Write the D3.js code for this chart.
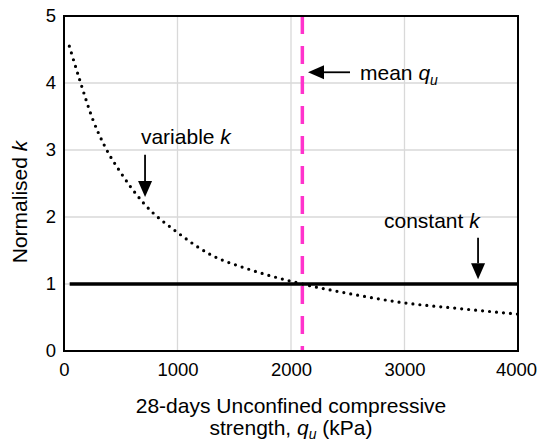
<!DOCTYPE html>
<html><head><meta charset="utf-8">
<script src="https://cdn.jsdelivr.net/npm/d3@7"></script>
<style>body{margin:0;background:#fff}svg{display:block}text{font-family:"Liberation Sans",Arial,sans-serif;fill:#000}</style>
</head><body><svg id="c" width="537" height="442"></svg>
<script>
const xTicks = [0, 1000, 2000, 3000, 4000];
const yTicks = [0, 1, 2, 3, 4, 5];
const curveQu = [47, 147, 253, 361, 493, 705, 1007, 1301, 1610, 1932, 2100, 2579, 2990, 3460, 4000];
const curveK  = [4.55, 4.00, 3.46, 3.05, 2.68, 2.20, 1.76, 1.43, 1.23, 1.07, 1.00, 0.836, 0.72, 0.637, 0.55];
const constQu = [50, 4000];
const constK = [1, 1];
const meanQu = 2100;

const svg = d3.select("#c");
const m = {l:64, r:19, t:16, b:91};
const W = 537, H = 442;
const x = d3.scaleLinear().domain([0,4000]).range([m.l, W-m.r]);
const y = d3.scaleLinear().domain([0,5]).range([H-m.b, m.t]);
const FT = 18.5, FS = 21;

// grid
svg.append("g").selectAll("line").data(xTicks.slice(1,-1)).join("line")
  .attr("x1",d=>x(d)).attr("x2",d=>x(d)).attr("y1",y(0)).attr("y2",y(5))
  .attr("stroke","#d9d9d9").attr("stroke-width",1.3);
svg.append("g").selectAll("line").data(yTicks.slice(1,-1)).join("line")
  .attr("y1",d=>y(d)).attr("y2",d=>y(d)).attr("x1",x(0)).attr("x2",x(4000))
  .attr("stroke","#d9d9d9").attr("stroke-width",1.3);

// axes labels via d3 axes without ticks
const xa = svg.append("g").attr("transform",`translate(0,${y(0)})`)
  .call(d3.axisBottom(x).tickValues(xTicks).tickSize(0).tickPadding(7).tickFormat(d3.format("d")));
const ya = svg.append("g").attr("transform",`translate(${x(0)},0)`)
  .call(d3.axisLeft(y).tickValues(yTicks).tickSize(0).tickPadding(8).tickFormat(d3.format("d")));
[xa,ya].forEach(g=>{g.select(".domain").remove();g.selectAll("text").attr("font-size",FT).attr("font-family","Liberation Sans, Arial, sans-serif").attr("fill","#000");});
xa.selectAll("text").attr("dy","0.95em");
xa.selectAll(".tick text").filter(d=>d===4000).attr("dx",-2);

// constant line
svg.append("path").datum(constQu.map((q,i)=>[q,constK[i]]))
  .attr("d",d3.line().x(d=>x(d[0])).y(d=>y(d[1])))
  .attr("stroke","#000").attr("stroke-width",3.5).attr("fill","none");

// variable curve
svg.append("path").datum(curveQu.map((q,i)=>[q,curveK[i]]))
  .attr("d",d3.line().x(d=>x(d[0])).y(d=>y(d[1])).curve(d3.curveMonotoneX))
  .attr("stroke","#000").attr("stroke-width",3.2).attr("fill","none")
  .attr("stroke-dasharray","0,7").attr("stroke-linecap","round");

// mean line
svg.append("line").attr("x1",x(meanQu)).attr("x2",x(meanQu)).attr("y1",y(5)).attr("y2",y(0))
  .attr("stroke","#ff33cc").attr("stroke-width",3.5).attr("stroke-dasharray","18,12");

// frame
svg.append("rect").attr("x",x(0)).attr("y",y(5)).attr("width",x(4000)-x(0)).attr("height",y(0)-y(5))
  .attr("fill","none").attr("stroke","#000").attr("stroke-width",2);

// arrows
function arrow(x1,y1,x2,y2){
  const ang=Math.atan2(y2-y1,x2-x1), L=16, w=7;
  const bx=x2-L*Math.cos(ang), by=y2-L*Math.sin(ang);
  svg.append("line").attr("x1",x1).attr("y1",y1).attr("x2",bx).attr("y2",by).attr("stroke","#000").attr("stroke-width",1.8);
  const px=-Math.sin(ang), py=Math.cos(ang);
  svg.append("path").attr("d",`M${x2},${y2}L${bx+px*w},${by+py*w}L${bx-px*w},${by-py*w}Z`).attr("fill","#000");
}
arrow(x(714),y(2.93),x(714),y(2.30));
arrow(x(2520),y(4.16),x(2150),y(4.16));
arrow(x(3648),y(1.69),x(3648),y(1.07));

// annotation texts
const t1=svg.append("text").attr("x",x(678)).attr("y",y(3.09)).attr("font-size",FS);
t1.append("tspan").text("variable ");t1.append("tspan").attr("font-style","italic").text("k");
const t2=svg.append("text").attr("x",x(2608)).attr("y",y(4.04)).attr("font-size",FS);
t2.append("tspan").text("mean ");t2.append("tspan").attr("font-style","italic").text("q");
t2.append("tspan").attr("font-style","italic").attr("font-size",14).attr("dy",5).text("u");
const t3=svg.append("text").attr("x",x(2819)).attr("y",y(1.84)).attr("font-size",FS);
t3.append("tspan").text("constant ");t3.append("tspan").attr("font-style","italic").text("k");

// axis titles
const cx=(x(0)+x(4000))/2;
svg.append("text").attr("x",cx).attr("y",413).attr("text-anchor","middle").attr("font-size",FS).text("28-days Unconfined compressive");
const l2=svg.append("text").attr("x",cx).attr("y",435).attr("text-anchor","middle").attr("font-size",FS);
l2.append("tspan").text("strength, ");
l2.append("tspan").attr("font-style","italic").text("q");
l2.append("tspan").attr("font-style","italic").attr("font-size",14).attr("dy",4).text("u");
l2.append("tspan").attr("dy",-4).text(" (kPa)");
const yt=svg.append("text").attr("transform",`translate(27,202) rotate(-90)`).attr("text-anchor","middle").attr("font-size",FS);
yt.append("tspan").text("Normalised ");yt.append("tspan").attr("font-style","italic").text("k");
</script></body></html>
